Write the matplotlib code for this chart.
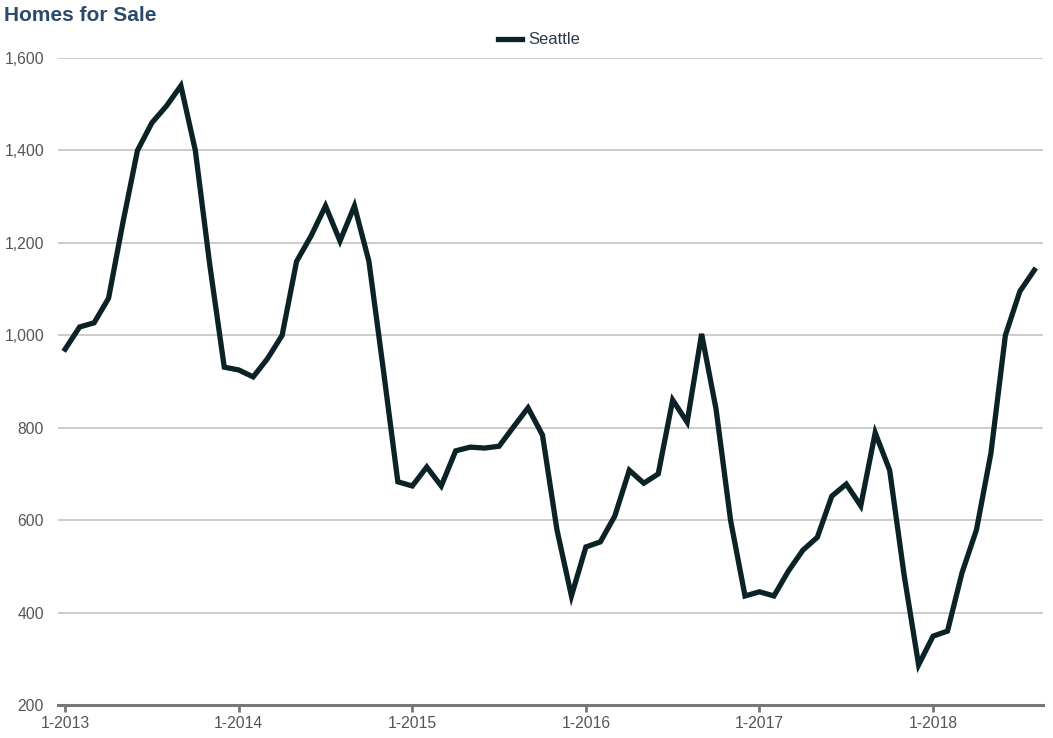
import matplotlib.pyplot as plt
from matplotlib.ticker import FuncFormatter

LINE_COLOR = '#0b2227'
GRID_COLOR = '#c8c8c8'
AXIS_COLOR = '#777777'
TEXT_COLOR = '#555555'
TITLE_COLOR = '#2b4a6b'

plt.rcParams['font.family'] = ['Liberation Sans', 'DejaVu Sans']

# monthly inventory, 1-2013 .. 8-2018
seattle = [
    970, 1018, 1027, 1080, 1245, 1400, 1460, 1496, 1540, 1400, 1152, 931,
    925, 910, 950, 1000, 1160, 1215, 1280, 1204, 1280, 1160, 925, 683,
    674, 715, 674, 750, 758, 756, 760, 802, 843, 784, 579, 436,
    542, 553, 609, 708, 680, 700, 860, 812, 1003, 840, 600, 436,
    445, 436, 490, 535, 563, 652, 678, 631, 789, 708, 481, 287,
    349, 360, 486, 579, 745, 1000, 1095, 1141,
]
tick_labels = ['1-2013', '1-2014', '1-2015', '1-2016', '1-2017', '1-2018']
y_ticks = [200, 400, 600, 800, 1000, 1200, 1400, 1600]

months = list(range(len(seattle)))

fig = plt.figure(figsize=(10.53, 7.38), dpi=100)
ax = fig.add_axes([0.055, 0.0447, 0.9355, 0.8767])

ax.plot(months, seattle, color=LINE_COLOR, linewidth=3.8,
        solid_joinstyle='miter', label='Seattle')

ax.set_xlim(-0.5, 67.6)
ax.set_ylim(200, 1600)
ax.set_yticks(y_ticks)
ax.yaxis.set_major_formatter(FuncFormatter(lambda v, p: f"{int(v):,}"))
ax.set_xticks([12 * i for i in range(len(tick_labels))])
ax.set_xticklabels(tick_labels)

ax.grid(axis='y', color=GRID_COLOR, linewidth=1.3)
ax.set_axisbelow(True)
for side in ['top', 'right', 'left']:
    ax.spines[side].set_visible(False)
ax.spines['bottom'].set_color(AXIS_COLOR)
ax.spines['bottom'].set_linewidth(2.2)
ax.spines['bottom'].set_zorder(3)

ax.tick_params(axis='y', length=0, pad=10, labelsize=11.3, labelcolor=TEXT_COLOR)
ax.tick_params(axis='x', length=5, width=2, color=AXIS_COLOR, pad=3,
               labelsize=11.3, labelcolor=TEXT_COLOR)

fig.text(0.004, 0.979, 'Homes for Sale', fontsize=15, fontweight='bold',
         color=TITLE_COLOR, ha='left', va='center')

leg = fig.legend(loc='center', bbox_to_anchor=(0.512, 0.946), frameon=False,
                 fontsize=12, handlelength=1.4, handletextpad=0.4)
for t in leg.get_texts():
    t.set_color('#2b3a4a')

fig.savefig('out.png', dpi=100, facecolor='white')
